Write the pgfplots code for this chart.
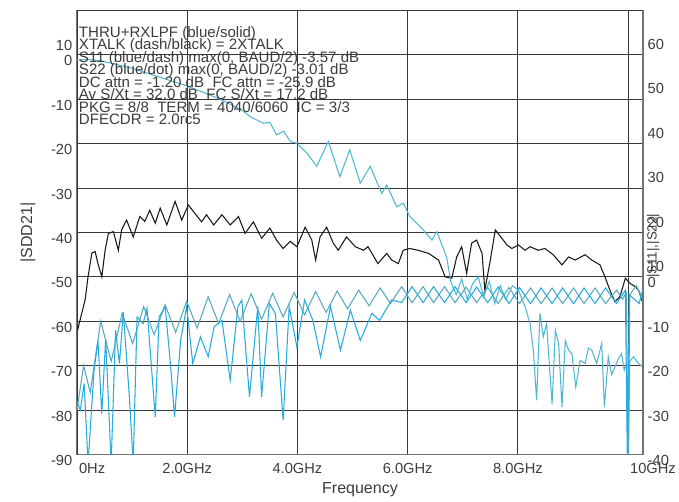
\documentclass[border=0pt]{standalone}
\usepackage{fontspec}
\setmainfont{Liberation Sans}
\usepackage{pgfplots}
\pgfplotsset{compat=1.18}

\definecolor{thru}{RGB}{80,185,210}
\definecolor{sone}{RGB}{40,172,222}
\definecolor{stwo}{RGB}{88,170,188}
\definecolor{gridc}{RGB}{55,55,55}
\definecolor{txt}{RGB}{60,60,60}

\pgfplotstableread{
f v
0.01 -62
0.05 -60
0.10 -57.5
0.15 -55
0.20 -50
0.27 -44.6
0.33 -44.3
0.38 -47
0.45 -50
0.51 -44
0.57 -40.2
0.66 -39.8
0.75 -44
0.81 -39.4
0.90 -37.2
1.02 -41
1.14 -36.4
1.23 -37.5
1.32 -35
1.42 -37.9
1.51 -34.5
1.63 -38.3
1.78 -33
1.90 -37.2
2.02 -33.8
2.14 -35.7
2.26 -37.6
2.35 -36
2.48 -38.3
2.63 -36
2.78 -38.3
2.93 -36.4
3.05 -40.2
3.20 -37.6
3.35 -41.3
3.50 -39
3.62 -41.7
3.74 -43.6
3.87 -42
3.99 -43.2
4.14 -38.8
4.26 -41.7
4.33 -46.2
4.41 -41
4.53 -38.8
4.65 -42.4
4.74 -44
4.89 -41
5.05 -43.2
5.20 -44
5.28 -43.2
5.46 -47
5.62 -44.7
5.71 -46.2
5.83 -47
5.92 -44
6.04 -43.6
6.19 -44
6.38 -44.7
6.56 -46.2
6.68 -50
6.80 -50.3
6.89 -45.5
6.98 -43.2
7.07 -49.2
7.16 -42.4
7.25 -41.7
7.35 -44.7
7.40 -53
7.50 -46.2
7.59 -39.4
7.71 -41.3
7.80 -42.8
7.89 -43.6
8.01 -42.8
8.13 -44
8.22 -43.2
8.37 -44
8.49 -43.6
8.64 -45
8.80 -47.3
8.92 -45.5
9.04 -46.2
9.22 -45
9.34 -46.2
9.49 -47.3
9.58 -50
9.67 -53
9.76 -55.6
9.85 -54.5
9.95 -50.3
10.04 -51.5
10.13 -52.2
10.19 -53
10.26 -55.6
}\xtalk

\pgfplotstableread{
f v
0.00 -1.2
0.20 -1.0
0.40 -1.3
0.60 -1.8
0.80 -2.4
1.00 -3.0
1.20 -3.8
1.40 -4.6
1.60 -5.4
1.80 -6.2
2.00 -7.0
2.20 -8.0
2.40 -9.0
2.60 -10.0
2.80 -11.2
3.00 -12.5
3.14 -13.9
3.38 -15.4
3.50 -15.2
3.62 -18
3.75 -17.2
3.87 -19.5
3.99 -19.9
4.17 -22.1
4.35 -25.1
4.56 -19.5
4.77 -27.4
4.95 -21.4
5.14 -28.9
5.32 -25.1
5.53 -31.2
5.62 -29.3
5.80 -34.2
5.92 -33.4
6.04 -36.4
6.28 -39.4
6.44 -41.7
6.53 -39.8
6.71 -45.7
6.78 -51
6.88 -54
6.98 -50.5
7.08 -55
7.18 -51.5
7.28 -50
7.38 -54.5
7.48 -51
7.58 -56
7.68 -52
7.78 -55
7.90 -52
8.01 -53
8.13 -56.7
8.22 -60.5
8.28 -66.5
8.34 -77.8
8.40 -58.2
8.46 -63.5
8.52 -60.5
8.62 -78.6
8.68 -62
8.74 -65
8.80 -79.3
8.86 -64.3
8.92 -66.5
8.98 -67.3
9.05 -74.8
9.13 -68.8
9.22 -69.5
9.28 -66
9.34 -66.5
9.43 -69.5
9.48 -67
9.52 -65
9.57 -79.3
9.64 -68
9.70 -72
9.76 -70.3
9.82 -68.5
9.88 -67.3
9.93 -71
9.97 -69.5
10.00 -95
10.03 -69
10.10 -68
10.19 -69.5
10.26 -70.3
}\thru

\pgfplotstableread{
f r
0.00 -28
0.06 -30
0.13 -24
0.20 -42
0.31 -21
0.38 -14.3
0.45 -30.8
0.52 -13.9
0.62 -42
0.70 -12
0.77 -19.5
0.84 -7.9
0.95 -27
1.02 -42
1.09 -9
1.20 -10.5
1.27 -7.1
1.42 -31.6
1.49 -9
1.60 -6.7
1.70 -20.3
1.77 -31.6
1.88 -14.3
1.99 -6.7
2.10 -19.5
2.24 -13.5
2.38 -18
2.49 -11.2
2.63 -9.8
2.78 -23.3
2.92 -6.7
2.99 -5.2
3.13 -27
3.28 -6.7
3.35 -27
3.49 -6
3.60 -8.2
3.74 -32.3
3.85 -6.7
3.99 -15.8
4.13 -5.2
4.28 -9.8
4.42 -18
4.60 -6.7
4.78 -16.5
4.96 -7.5
5.14 -14.3
5.35 -8.2
5.49 -9.8
5.71 -5.2
5.89 -5.8
6.08 -2.2
6.28 -5.8
6.47 -2.2
6.67 -5.8
6.86 -2.2
7.06 -5.8
7.25 -2.3
7.45 -5.8
7.64 -2.3
7.84 -6
8.03 -2.4
8.23 -6
8.42 -2.5
8.62 -6
8.81 -2.5
9.01 -6
9.20 -2.5
9.40 -6
9.59 -2.5
9.79 -6
9.95 -3
9.99 -45
10.02 -4
10.20 -6
10.26 -3
}\sone

\pgfplotstableread{
f r
0.00 -30
0.12 -20
0.24 -26
0.43 -10
0.62 -19
0.82 -8.2
1.01 -15
1.21 -6.7
1.40 -13
1.60 -6.3
1.79 -12.5
1.99 -5.5
2.18 -11.5
2.38 -4.5
2.57 -10.5
2.77 -4
2.96 -10
3.16 -3.8
3.35 -9.5
3.55 -3.7
3.74 -9
3.94 -3.5
4.13 -8.5
4.33 -3.3
4.52 -8
4.72 -3.2
4.91 -7.2
5.11 -3
5.30 -6.5
5.50 -2.5
5.69 -6
5.89 -2.2
6.08 -5.8
6.28 -2.2
6.47 -5.8
6.67 -2.2
6.86 -5.8
7.06 -2.3
7.25 -5.8
7.45 -2.3
7.64 -6
7.84 -2.4
8.03 -6
8.23 -2.5
8.42 -6
8.62 -2.5
8.81 -6
9.01 -2.5
9.20 -6
9.40 -2.5
9.59 -6
9.79 -3
9.90 -5
9.97 -3.5
10.00 -45
10.03 -4
10.15 -2
10.26 -5
}\stwo

\begin{document}
\begin{tikzpicture}[x=1pt,y=1pt]
\path[use as bounding box] (-57.75,-34.875) rectangle (451.5,340.875);
\begin{axis}[
  at={(0,0)}, anchor=south west,
  width=424.5pt, height=333pt, scale only axis,
  xmin=0, xmax=10.27, ymin=-90, ymax=10,
  /pgf/number format/assume math mode=true,
  axis line style={black!55, line width=0.9pt},
  grid=major, grid style={gridc, line width=0.7pt},
  major tick length=0pt,
  xtick={2,4,6,8}, xticklabels={2.0GHz,4.0GHz,6.0GHz,8.0GHz},
  extra x ticks={0,10}, extra x tick labels={0Hz,10GHz},
  extra x tick style={xticklabel style={anchor=north west, xshift=-2pt}},
  xticklabel style={yshift=-3pt},
  ytick={-90,-80,...,0},
  yticklabel style={yshift=-4.5pt},
  extra y ticks={10},
  extra y tick style={yticklabel style={yshift=-22pt}},
  ticklabel style={font=\fontsize{11}{12}\selectfont, text=txt},
  xlabel={Frequency},
  xlabel style={at={(axis description cs:0.5,-0.08)}, anchor=center, font=\fontsize{12}{12}\selectfont, text=txt},
  ylabel={|SDD21|},
  ylabel style={at={(axis description cs:-0.0866,0.5)}, anchor=center, font=\fontsize{12}{12}\selectfont, text=txt},
]
\addplot[black!90, line width=0.8pt] table[x=f,y=v] {\xtalk};
\addplot[thru, line width=0.8pt] table[x=f,y=v] {\thru};
\node[anchor=base west, inner sep=0pt, font=\fontsize{11.3}{12}\selectfont, text=txt] at (axis description cs:0.003,0.9397) {THRU+RXLPF (blue/solid)};
\node[anchor=base west, inner sep=0pt, font=\fontsize{11.3}{12}\selectfont, text=txt] at (axis description cs:0.003,0.9115) {XTALK (dash/black) = 2XTALK};
\node[anchor=base west, inner sep=0pt, font=\fontsize{11.3}{12}\selectfont, text=txt] at (axis description cs:0.003,0.8834) {S11 (blue/dash) max(0, BAUD/2) -3.57 dB};
\node[anchor=base west, inner sep=0pt, font=\fontsize{11.3}{12}\selectfont, text=txt] at (axis description cs:0.003,0.8552) {S22 (blue/dot) max(0, BAUD/2) -3.01 dB};
\node[anchor=base west, inner sep=0pt, font=\fontsize{11.3}{12}\selectfont, text=txt] at (axis description cs:0.003,0.8270) {DC attn = -1.20 dB\ \ FC attn = -25.9 dB};
\node[anchor=base west, inner sep=0pt, font=\fontsize{11.3}{12}\selectfont, text=txt] at (axis description cs:0.003,0.7989) {Av S/Xt = 32.0 dB\ \ FC S/Xt = 17.2 dB};
\node[anchor=base west, inner sep=0pt, font=\fontsize{11.3}{12}\selectfont, text=txt] at (axis description cs:0.003,0.7707) {PKG = 8/8\ \ TERM = 4040/6060\ \ IC = 3/3};
\node[anchor=base west, inner sep=0pt, font=\fontsize{11.3}{12}\selectfont, text=txt] at (axis description cs:0.003,0.7426) {DFECDR = 2.0rc5};
\end{axis}
\begin{axis}[
  at={(0,0)}, anchor=south west,
  width=424.5pt, height=333pt, scale only axis,
  xmin=0, xmax=10.27, ymin=-40, ymax=60,
  /pgf/number format/assume math mode=true,
  axis x line=none, axis y line*=right,
  axis line style={black!55, line width=0.9pt},
  major tick length=0pt,
  ytick={-40,-30,...,0},
  yticklabel style={yshift=-4.5pt},
  extra y ticks={10,20,...,60},
  extra y tick style={yticklabel style={yshift=-21pt}},
  ticklabel style={font=\fontsize{11}{12}\selectfont, text=txt},
  ylabel={|S11|,|S22|},
  ylabel style={at={(axis description cs:1.018,0.47)}, anchor=center, font=\fontsize{10}{10}\selectfont, text=txt},
]
\addplot[stwo, line width=0.8pt] table[x=f,y=r] {\stwo};
\addplot[sone, line width=0.8pt] table[x=f,y=r] {\sone};
\end{axis}
\end{tikzpicture}
\end{document}
